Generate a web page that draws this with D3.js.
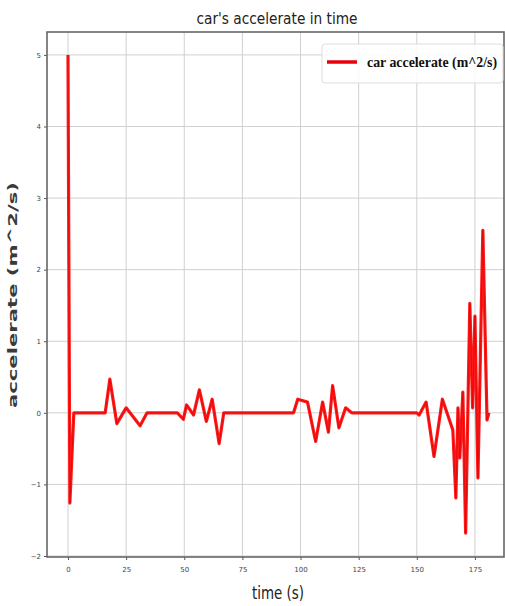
<!DOCTYPE html>
<html>
<head>
<meta charset="utf-8">
<style>
body { margin: 0; background: #fff; }
.tick text { font: 7px "DejaVu Sans", sans-serif; fill: #444; }
.grid line { stroke: #d0d0d0; stroke-width: 1; }
</style>
</head>
<body>
<script src="https://d3js.org/d3.v7.min.js"></script>
<script>

// time (s) and acceleration samples
var time  = [0, 0.8, 2.5, 16, 18, 21, 25, 31, 34, 47, 49.6, 51, 54, 56.5, 59.5, 62, 65, 67,
             97, 98.8, 103, 106.5, 109.5, 112, 113.8, 116.5, 119.4, 122, 150, 151, 154, 157.4,
             161, 165.5, 166.8, 167.7, 168.5, 169.8, 171, 172.8, 174, 175, 176.3, 178.4, 180.2, 181];
var accel = [5, -1.26, 0, 0, 0.47, -0.15, 0.07, -0.18, 0, 0, -0.09, 0.11, -0.03, 0.32, -0.12, 0.19, -0.43, 0,
             0, 0.19, 0.15, -0.40, 0.15, -0.27, 0.38, -0.21, 0.07, 0, 0, -0.03, 0.15, -0.61,
             0.19, -0.24, -1.19, 0.07, -0.63, 0.29, -1.68, 1.53, 0.07, 1.35, -0.91, 2.55, -0.1, 0];
var xTicks = [0, 25, 50, 75, 100, 125, 150, 175];
var yTicks = [-2, -1, 0, 1, 2, 3, 4, 5];

var W = 505, H = 606;
var L = 47, T = 32, R = 504, B = 557;

var svg = d3.select("body").append("svg").attr("width", W).attr("height", H);

var x = d3.scaleLinear().domain([-9.03, 187.5]).range([L, R]);
var y = d3.scaleLinear().domain([-2.014, 5.32]).range([B, T]);

// grid
svg.append("g").attr("class", "grid")
  .selectAll("line.v").data(xTicks).enter().append("line")
  .attr("x1", d => x(d)).attr("x2", d => x(d)).attr("y1", T).attr("y2", B);
svg.append("g").attr("class", "grid")
  .selectAll("line.h").data(yTicks).enter().append("line")
  .attr("y1", d => y(d)).attr("y2", d => y(d)).attr("x1", L).attr("x2", R);

// axes
var xAxis = svg.append("g").attr("transform", "translate(0," + B + ")")
  .call(d3.axisBottom(x).tickValues(xTicks).tickSize(3).tickPadding(7));
var yAxis = svg.append("g").attr("transform", "translate(" + L + ",0)")
  .call(d3.axisLeft(y).tickValues(yTicks).tickSize(3).tickPadding(3));
[xAxis, yAxis].forEach(function(a){
  a.select(".domain").remove();
  a.selectAll(".tick line").attr("stroke", "#555");
});

// frame
svg.append("rect").attr("x", L).attr("y", T).attr("width", R - L).attr("height", B - T)
  .attr("fill", "none").attr("stroke", "#666").attr("stroke-width", 1.6);

// line
var pts = time.map((t, i) => [t, accel[i]]);
var line = d3.line().x(d => x(d[0])).y(d => y(d[1]));
svg.append("path").datum(pts).attr("d", line)
  .attr("fill", "none").attr("stroke", "#ff1a1a").attr("stroke-width", 3.2)
  .attr("stroke-linejoin", "round");
svg.append("path").datum(pts).attr("d", line)
  .attr("fill", "none").attr("stroke", "#d40000").attr("stroke-width", 1)
  .attr("stroke-linejoin", "round").attr("opacity", 0.6);

// legend
var lg = svg.append("g");
lg.append("rect").attr("x", 322).attr("y", 44).attr("width", 181).attr("height", 39).attr("rx", 3)
  .attr("fill", "#fff").attr("fill-opacity", 0.85).attr("stroke", "#ddd");
lg.append("line").attr("x1", 327).attr("x2", 357).attr("y1", 62).attr("y2", 62)
  .attr("stroke", "#e8000b").attr("stroke-width", 3.5);
lg.append("text").attr("x", 367).attr("y", 67)
  .attr("textLength", 130).attr("lengthAdjust", "spacingAndGlyphs")
  .style("font", "bold 14px 'Liberation Serif', serif").style("fill", "#111")
  .text("car accelerate (m^2/s)");

// title and labels
svg.append("text").attr("x", 277).attr("y", 24).attr("text-anchor", "middle")
  .attr("textLength", 161).attr("lengthAdjust", "spacingAndGlyphs")
  .style("font", "15px 'DejaVu Sans Condensed', 'DejaVu Sans', sans-serif").style("fill", "#222")
  .text("car's accelerate in time");
svg.append("text").attr("x", 278).attr("y", 599).attr("text-anchor", "middle")
  .attr("textLength", 52).attr("lengthAdjust", "spacingAndGlyphs")
  .style("font", "17px 'DejaVu Sans Condensed', 'DejaVu Sans', sans-serif").style("fill", "#222")
  .text("time (s)");
svg.append("text").attr("transform", "translate(17,295) rotate(-90)").attr("text-anchor", "middle")
  .attr("textLength", 226).attr("lengthAdjust", "spacingAndGlyphs")
  .style("font", "bold 12px 'DejaVu Sans', sans-serif").style("fill", "#3a3a3a")
  .text("accelerate (m^2/s)");

</script>
</body>
</html>
